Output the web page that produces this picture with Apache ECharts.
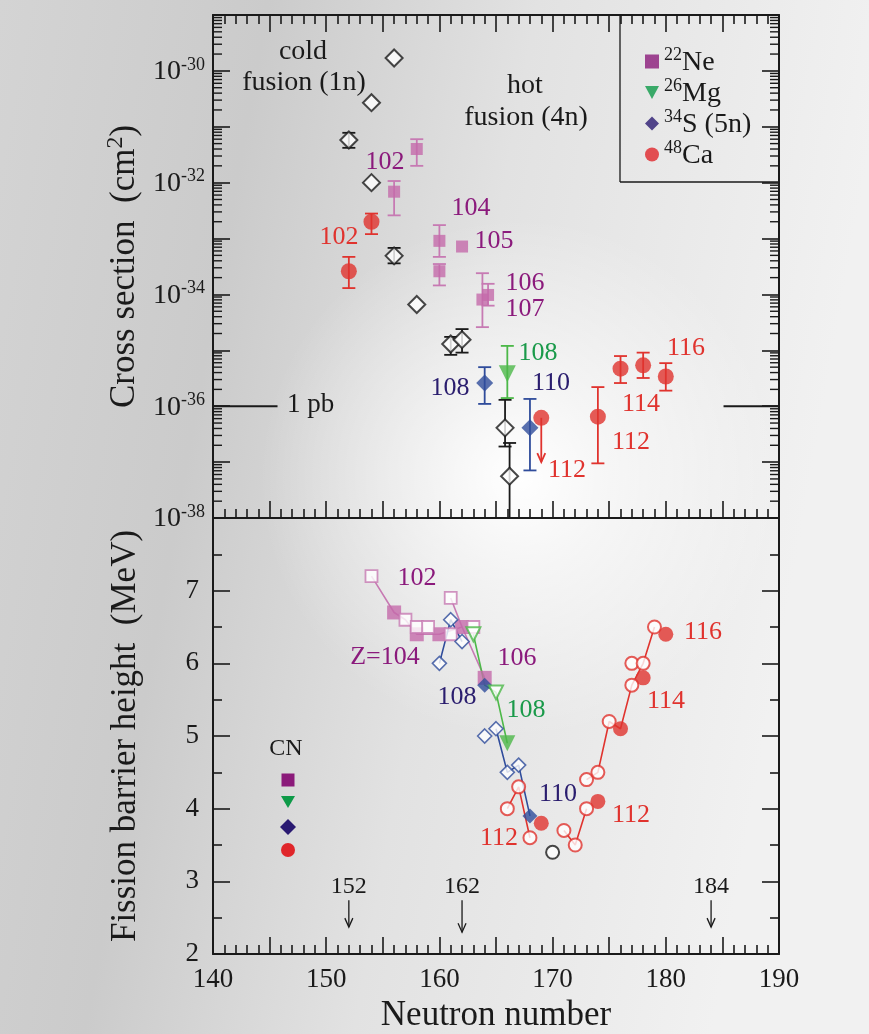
<!DOCTYPE html>
<html><head><meta charset="utf-8">
<script src="https://cdn.jsdelivr.net/npm/echarts@6/dist/echarts.min.js"></script>
<style>html,body{margin:0;padding:0;background:#d8d8d8}#c{width:869px;height:1034px}</style>
</head><body><div id="c"></div>
<script>
// ===================== DATA =====================
// x axis (neutron number)
const xMin = 140, xMax = 190;
const xLabels = [140, 150, 160, 170, 180, 190];
// top panel: cross sections [N, sigma (cm^2)], error bars [N, low, high]
const coldFusion = [[156,1.7e-30],[154,2.7e-31],[152,5.8e-32],[154,1.0e-32],[156,4.9e-34],[158,6.6e-35],[161,1.3e-35],[162,1.55e-35],[165.8,4.1e-37],[166.2,5.6e-38]];
const coldFusionErr = [[152,4.2e-32,7.8e-32],[156,3.6e-34,6.8e-34],[161,8.3e-36,1.74e-35],[162,9.1e-36,2.4e-35],[165.8,1.9e-37,1.3e-36],[166.2,1e-39,2.2e-37]];
const ne22 = [[158,4.0e-32],[156,6.9e-33],[160,9.1e-34],[160,2.6e-34],[162,7.2e-34],[163.8,8.1e-35],[164.3,9.8e-35]];
const ne22Err = [[158,2.0e-32,6.0e-32],[156,2.6e-33,1.07e-32],[160,4.7e-34,1.74e-33],[160,1.45e-34,3.5e-34],[163.8,2.6e-35,2.4e-34],[164.3,6.3e-35,1.55e-34]];
const mg26 = [[166,3.8e-36]];
const mg26Err = [[166,1.4e-36,1.2e-35]];
const s34 = [[164,2.6e-36],[168,4.1e-37]];
const s34Err = [[164,1.1e-36,5.0e-36],[168,7.1e-38,1.35e-36]];
const ca48 = [[152,2.6e-34],[154,2.0e-33],[169,6.2e-37],[174,6.5e-37],[176,4.7e-36],[178,5.4e-36],[180,3.4e-36]];
const ca48Err = [[152,1.3e-34,4.7e-34],[154,1.2e-33,2.8e-33],[174,9.5e-38,2.2e-36],[176,2.6e-36,7.9e-36],[178,3.2e-36,9.1e-36],[180,1.9e-36,5.9e-36]];
const ca48Limit = [[169,6.2e-37,1.0e-37]];
const onePb = 1e-36;
const sigmaMin = 1e-38, sigmaMax = 1e-29;
const logMinorMult = [2,3,4,5,6,7,8,9];
const logDecades = [-38,-37,-36,-35,-34,-33,-32,-31,-30];
// bottom panel: fission barrier heights [N, B (MeV)]
const ne22Open = [[154,7.2],[157,6.6],[158,6.5],[159,6.5],[161,6.4],[161,6.9],[163,6.5]];
const ne22CN = [[156,6.7],[158,6.4],[160,6.4],[162,6.5],[164,5.8]];
const ne22Lines = [[[154,7.2],[156,6.7],[157,6.6],[158,6.4],[160,6.4],[162,6.5],[164,5.8]],[[161,6.9],[162,6.5]]];
const s34Open = [[160,6.0],[161,6.6],[162,6.3],[164,5.0],[165,5.1],[166,4.5],[167,4.6]];
const s34CN = [[164,5.7],[168,3.9]];
const s34Lines = [[[160,6.0],[161,6.6],[162,6.3]],[[165,5.1],[166,4.5],[167,4.6],[168,3.9]]];
const mg26Open = [[163,6.4],[165,5.6]];
const mg26CN = [[166,4.9]];
const mg26Lines = [[[163,6.4],[164,5.7],[165,5.6],[166,4.9]]];
const ca48Open = [[166,4.0],[167,4.3],[168,3.6],[171,3.7],[172,3.5],[173,4.0],[173,4.4],[174,4.5],[175,5.2],[177,5.7],[177,6.0],[178,6.0],[179,6.5]];
const ca48CN = [[169,3.8],[174,4.1],[176,5.1],[178,5.8],[180,6.4]];
const ca48Lines = [[[166,4.0],[167,4.3],[168,3.6]],[[171,3.7],[172,3.5],[173,4.0]],[[173,4.4],[174,4.5],[175,5.2],[176,5.1],[177,5.7],[178,6.0],[179,6.5]]];
const otherOpen = [[170,3.4]];
const magicNumbers = [152, 162, 184];

// ===================== STYLE =====================
const FONT = 'Liberation Serif';
const INK = '#1a1a1a';
const C_MAG = '#c46aaa', C_MAG_LINE = '#c77ab3', C_MAG_TXT = '#8b1a7c';
const C_GRN = '#4cb848', C_GRN_TXT = '#1a9a4a';
const C_BLU = '#2f4c9b', C_BLU_TXT = '#2a1d6e';
const C_RED = '#e0332e';

const L = Math.log10;
const lg = arr => arr.map(d => [d[0], ...d.slice(1).map(L)]);

const chart = echarts.init(document.getElementById('c'));

const axLine = {show:true, onZero:false, lineStyle:{color:INK, width:2}};
const tickStyle = {color:INK, width:1.6};

function xAx(grid, pos, ticks, labels) {
  return {type:'value', gridIndex:grid, min:xMin, max:xMax, interval:5, position:pos,
    axisLine:axLine,
    axisTick:{show:ticks, inside:true, length:17, lineStyle:tickStyle},
    minorTick:{show:ticks, splitNumber:5, length:9, lineStyle:tickStyle},
    splitLine:{show:false}, minorSplitLine:{show:false},
    axisLabel: labels ? {show:true, margin:12, fontFamily:FONT, fontSize:27, color:INK,
      formatter: v => (xLabels.indexOf(v) >= 0 ? String(v) : '')} : {show:false},
    name: labels ? 'Neutron number' : '', nameLocation:'middle', nameGap:44,
    nameTextStyle:{fontFamily:FONT, fontSize:35, color:INK}};
}
function logYAx(pos, labels) {
  return {type:'value', gridIndex:0, min:L(sigmaMin), max:L(sigmaMax), interval:1, position:pos,
    axisLine:axLine, axisTick:{inside:true, length:17, lineStyle:tickStyle},
    splitLine:{show:false},
    axisLabel: labels ? {margin:8, rich:{
        b:{fontFamily:FONT, fontSize:28, color:INK, verticalAlign:'bottom', lineHeight:30},
        s:{fontFamily:FONT, fontSize:18, color:INK, verticalAlign:'top', lineHeight:16}},
      formatter: v => {
        const e = Math.round(v);
        return (e % 2 === 0 && e <= -30) ? '{b|10}{s|' + e + '}' : '';
      }} : {show:false},
    name: labels ? '{n|Cross section  (cm}{s|2}{n|)}' : '', nameLocation:'middle', nameGap:70,
    nameTextStyle:{rich:{
      n:{fontFamily:FONT, fontSize:35, color:INK, verticalAlign:'bottom', lineHeight:38},
      s:{fontFamily:FONT, fontSize:24, color:INK, verticalAlign:'top', lineHeight:22}}}};
}

function errRender(color, half) {
  return function(params, api) {
    const x = api.value(0), lo = api.value(1), hi = api.value(2);
    const a = api.coord([x, hi]), b = api.coord([x, lo]);
    const st = {stroke:color, lineWidth:1.8};
    return {type:'group', children:[
      {type:'line', shape:{x1:a[0],y1:a[1],x2:b[0],y2:b[1]}, style:st},
      {type:'line', shape:{x1:a[0]-half,y1:a[1],x2:a[0]+half,y2:a[1]}, style:st},
      {type:'line', shape:{x1:b[0]-half,y1:b[1],x2:b[0]+half,y2:b[1]}, style:st}
    ]};
  };
}
function errSeries(data, color) {
  return {type:'custom', xAxisIndex:0, yAxisIndex:0, data:lg(data), clip:true, z:2, silent:true,
    encode:{x:0, y:[1,2]}, renderItem: errRender(color, 6.5)};
}
function topScatter(name, data, symbol, size, style, rot) {
  return {type:'scatter', name, xAxisIndex:0, yAxisIndex:0, data:lg(data), symbol, symbolSize:size,
    symbolRotate: rot || 0, itemStyle:style, z:4, silent:true};
}
function botScatter(name, data, symbol, size, style, rot) {
  return {type:'scatter', name, xAxisIndex:2, yAxisIndex:2, data, symbol, symbolSize:size,
    symbolRotate: rot || 0, itemStyle:style, z:4, silent:true};
}
function segs(list, color) {
  return list.map(d => ({type:'line', xAxisIndex:2, yAxisIndex:2, data:d, symbol:'none',
    lineStyle:{color, width:1.6}, z:2, silent:true}));
}

const minorTickData = [];
logDecades.forEach(d => logMinorMult.forEach(m => minorTickData.push([xMin, d + L(m)])));

function txt(x, y, text, color, size, align) {
  return {type:'text', x, y, silent:true, z:10,
    style:{text, fill:color, font:`${size}px "${FONT}"`, align:align||'center', verticalAlign:'middle'}};
}

const option = {
  animation:false,
  backgroundColor:'transparent',
  grid:[
    {left:213, right:90, top:15, height:503},
    {left:213, right:90, top:518, height:436}
  ],
  legend:{
    left:640, top:41, orient:'vertical', itemGap:0, itemWidth:14, itemHeight:14,
    selectedMode:false,
    data:[
      {name:'22Ne', icon:'rect', itemStyle:{color:'#8b1a7a'}},
      {name:'26Mg', icon:'path://M0,0L12,0L6,11Z', itemStyle:{color:'#0e9a48'}},
      {name:'34S (5n)', icon:'diamond', itemStyle:{color:'#2a1a72'}},
      {name:'48Ca', icon:'circle', itemStyle:{color:'#e0262a'}}
    ],
    formatter: n => ({'22Ne':'{s|22}{n|Ne}','26Mg':'{s|26}{n|Mg}','34S (5n)':'{s|34}{n|S (5n)}','48Ca':'{s|48}{n|Ca}'}[n]),
    textStyle:{rich:{
      n:{fontFamily:FONT, fontSize:28, color:INK, verticalAlign:'bottom', lineHeight:31},
      s:{fontFamily:FONT, fontSize:18, color:INK, verticalAlign:'top', lineHeight:16}
    }}
  },
  xAxis:[
    xAx(0,'bottom',true,false),
    xAx(0,'top',true,false),
    xAx(1,'bottom',true,true),
    xAx(1,'top',false,false)
  ],
  yAxis:[
    logYAx('left', true),
    logYAx('right', false),
    {type:'value', gridIndex:1, min:2, max:8, interval:1, position:'left',
      axisLine:axLine, axisTick:{inside:true, length:17, lineStyle:tickStyle},
      minorTick:{show:true, splitNumber:2, length:9, lineStyle:tickStyle},
      splitLine:{show:false}, minorSplitLine:{show:false},
      axisLabel:{margin:14, fontFamily:FONT, fontSize:27, color:INK, formatter: v => (v < 8 ? String(v) : '')},
      name:'Fission barrier height  (MeV)', nameLocation:'middle', nameGap:70,
      nameTextStyle:{fontFamily:FONT, fontSize:35, color:INK}},
    {type:'value', gridIndex:1, min:2, max:8, interval:1, position:'right',
      axisLine:axLine, axisTick:{inside:true, length:17, lineStyle:tickStyle},
      minorTick:{show:true, splitNumber:2, length:9, lineStyle:tickStyle},
      splitLine:{show:false}, minorSplitLine:{show:false}, axisLabel:{show:false}}
  ],
  graphic:[
    {type:'rect', shape:{x:0,y:0,width:869,height:1034}, z:-100, silent:true,
      style:{fill:new echarts.graphic.LinearGradient(0,0,1,0.15,[
        {offset:0,color:'#d4d4d4'},{offset:0.3,color:'#cbcbcb'},{offset:0.6,color:'#e2e2e2'},{offset:1,color:'#f1f1f1'}])}},
    {type:'circle', shape:{cx:520, cy:478, r:260}, z:-99, silent:true,
      style:{fill:new echarts.graphic.RadialGradient(0.5,0.5,0.5,[
        {offset:0,color:'rgba(255,255,255,1)'},{offset:0.35,color:'rgba(255,255,255,0.6)'},{offset:1,color:'rgba(255,255,255,0)'}])}},
    // legend box
    {type:'line', shape:{x1:620,y1:15,x2:620,y2:182}, style:{stroke:INK, lineWidth:1.3}, z:10, silent:true},
    {type:'line', shape:{x1:620,y1:182,x2:779,y2:182}, style:{stroke:INK, lineWidth:1.3}, z:10, silent:true},
    // top panel annotations
    txt(303,52,'cold',INK,28), txt(304,83,'fusion (1n)',INK,28),
    txt(525,86,'hot',INK,28), txt(526,118,'fusion (4n)',INK,28),
    txt(287,405,'1 pb',INK,27,'left'),
    txt(385,162,'102',C_MAG_TXT,26), txt(471,208,'104',C_MAG_TXT,26), txt(494,241,'105',C_MAG_TXT,26),
    txt(525,283,'106',C_MAG_TXT,26), txt(525,309,'107',C_MAG_TXT,26),
    txt(339,237,'102',C_RED,26), txt(567,470,'112',C_RED,26), txt(631,442,'112',C_RED,26),
    txt(641,404,'114',C_RED,26), txt(686,348,'116',C_RED,26),
    txt(538,353,'108',C_GRN_TXT,26), txt(450,388,'108',C_BLU_TXT,26), txt(551,383,'110',C_BLU_TXT,26),
    // bottom panel annotations
    txt(417,578,'102',C_MAG_TXT,26), txt(385,657,'Z=104',C_MAG_TXT,26), txt(517,658,'106',C_MAG_TXT,26),
    txt(457,697,'108',C_BLU_TXT,26), txt(526,710,'108',C_GRN_TXT,26), txt(558,794,'110',C_BLU_TXT,26),
    txt(499,838,'112',C_RED,26), txt(631,815,'112',C_RED,26), txt(666,701,'114',C_RED,26), txt(703,632,'116',C_RED,26),
    txt(286,749,'CN',INK,24),
    {type:'rect', shape:{x:281.5,y:773.5,width:13,height:13}, style:{fill:'#8b1a7a'}, z:10, silent:true},
    {type:'polygon', shape:{points:[[281,796],[295,796],[288,808]]}, style:{fill:'#0e9a48'}, z:10, silent:true},
    {type:'polygon', shape:{points:[[288,819],[296,827],[288,835],[280,827]]}, style:{fill:'#2a1a72'}, z:10, silent:true},
    {type:'circle', shape:{cx:288, cy:850, r:7}, style:{fill:'#e0262a'}, z:10, silent:true}
  ],
  series:[
    // log minor ticks (left & right of top panel)
    {type:'custom', xAxisIndex:0, yAxisIndex:0, data:minorTickData, silent:true, z:1, encode:{x:0,y:1},
      renderItem:(p, api) => {
        const v = api.value(1);
        const l = api.coord([xMin, v]), r = api.coord([xMax, v]);
        const st = {stroke:INK, lineWidth:1.4};
        return {type:'group', children:[
          {type:'line', shape:{x1:l[0],y1:l[1],x2:l[0]+9,y2:l[1]}, style:st},
          {type:'line', shape:{x1:r[0],y1:r[1],x2:r[0]-9,y2:r[1]}, style:st}]};
      }},
    // 1 pb marks
    {type:'custom', xAxisIndex:0, yAxisIndex:0, data:[[xMin, L(onePb)]], silent:true, z:1, encode:{x:0,y:1},
      renderItem:(p, api) => {
        const v = api.value(1);
        const a = api.coord([xMin, v]), b = api.coord([145.7, v]);
        const c = api.coord([185.1, v]), d = api.coord([xMax, v]);
        const st = {stroke:INK, lineWidth:2};
        return {type:'group', children:[
          {type:'line', shape:{x1:a[0],y1:a[1],x2:b[0],y2:b[1]}, style:st},
          {type:'line', shape:{x1:c[0],y1:c[1],x2:d[0],y2:d[1]}, style:st}]};
      }},
    errSeries(coldFusionErr, INK),
    errSeries(ne22Err, C_MAG_LINE),
    errSeries(mg26Err, C_GRN),
    errSeries(s34Err, C_BLU),
    errSeries(ca48Err, C_RED),
    {type:'custom', xAxisIndex:0, yAxisIndex:0, data:lg(ca48Limit), silent:true, z:2, encode:{x:0,y:[1,2]},
      renderItem:(p, api) => {
        const a = api.coord([api.value(0), api.value(1)]), b = api.coord([api.value(0), api.value(2)]);
        const st = {stroke:C_RED, lineWidth:1.8, fill:null};
        return {type:'group', children:[
          {type:'line', shape:{x1:a[0],y1:a[1],x2:b[0],y2:b[1]}, style:st},
          {type:'polyline', shape:{points:[[b[0]-4,b[1]-9],[b[0],b[1]],[b[0]+4,b[1]-9]]}, style:st}]};
      }},
    topScatter('cold', coldFusion, 'diamond', 17, {color:'#ffffff', borderColor:INK, borderWidth:2}),
    topScatter('22Ne', ne22, 'rect', 12, {color:C_MAG}),
    topScatter('26Mg', mg26, 'triangle', 17, {color:C_GRN}, 180),
    topScatter('34S (5n)', s34, 'diamond', 17, {color:C_BLU}),
    topScatter('48Ca', ca48, 'circle', 16, {color:C_RED}),
    // bottom panel
    ...segs(ne22Lines, C_MAG_LINE),
    ...segs(s34Lines, C_BLU),
    ...segs(mg26Lines, C_GRN),
    ...segs(ca48Lines, C_RED),
    botScatter('ne22CN', ne22CN, 'rect', 14, {color:C_MAG}),
    botScatter('ne22ER', ne22Open, 'rect', 12, {color:'#ffffff', borderColor:C_MAG_LINE, borderWidth:1.8}),
    botScatter('s34ER', s34Open, 'diamond', 14, {color:'#ffffff', borderColor:C_BLU, borderWidth:1.6}),
    botScatter('s34CN', s34CN, 'diamond', 15, {color:C_BLU}),
    botScatter('mg26ER', mg26Open, 'triangle', 14, {color:'#ffffff', borderColor:C_GRN, borderWidth:2}, 180),
    botScatter('mg26CN', mg26CN, 'triangle', 16, {color:C_GRN}, 180),
    botScatter('ca48ER', ca48Open, 'circle', 13, {color:'#ffffff', borderColor:C_RED, borderWidth:2}),
    botScatter('ca48CN', ca48CN, 'circle', 15, {color:C_RED}),
    botScatter('other', otherOpen, 'circle', 13, {color:'#ffffff', borderColor:INK, borderWidth:2}),
    // magic numbers with arrows
    {type:'custom', xAxisIndex:2, yAxisIndex:2, data:magicNumbers.map(n => [n]), silent:true, z:5, encode:{x:0},
      renderItem:(p, api) => {
        const n = api.value(0);
        const t = api.coord([n, 2.92]), a = api.coord([n, 2.74]), b = api.coord([n, n === 162 ? 2.3 : 2.37]);
        const st = {stroke:INK, lineWidth:1.3, fill:null};
        return {type:'group', children:[
          {type:'text', x:t[0], y:t[1], style:{text:String(n), fill:INK, font:`24px "${FONT}"`, align:'center', verticalAlign:'middle'}},
          {type:'line', shape:{x1:a[0],y1:a[1],x2:b[0],y2:b[1]}, style:st},
          {type:'polyline', shape:{points:[[b[0]-4,b[1]-9],[b[0],b[1]],[b[0]+4,b[1]-9]]}, style:st}]};
      }}
  ]
};
chart.setOption(option);
</script></body></html>
